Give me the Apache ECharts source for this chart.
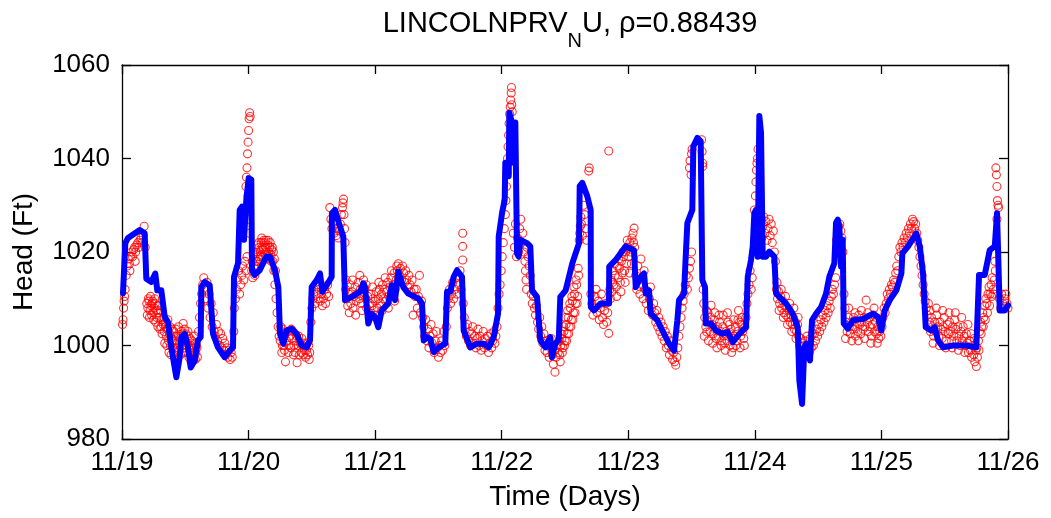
<!DOCTYPE html>
<html>
<head>
<meta charset="utf-8">
<script src="https://cdn.jsdelivr.net/npm/echarts@6/dist/echarts.min.js"></script>
<style>
html,body{margin:0;padding:0;background:#fff;}
#chart{width:1051px;height:518px;}
</style>
</head>
<body>
<div id="chart"></div>
<script>
// x values are hours since 11/19 00:00
const dayLabels = ['11/19','11/20','11/21','11/22','11/23','11/24','11/25','11/26'];
const yTicks = [980, 1000, 1020, 1040, 1060];
const titleMain = 'LINCOLNPRV';
const titleSub = 'N';
const titleRest = 'U, ρ=0.88439';
const xName = 'Time (Days)';
const yName = 'Head (Ft)';

// simulated head (blue line)
const simulated = [
[0.19,1011.2],[0.63,1021.9],[1.14,1023],[3.36,1024.7],[4.30,1024],[4.61,1014.3],[5.56,1013.6],[6.31,1015.4],[6.69,1011.8],[7.45,1011.8],
[8.10,1006.1],[8.72,1005],[9.35,999.6],[10.30,993.2],[10.94,997.5],[11.24,1001.8],[11.89,1002.5],[12.51,999.6],[13.03,995.3],[13.79,996.8],
[14.41,1001.1],[14.92,1001.8],[15.04,1012.5],[15.68,1013.6],[16.63,1012.9],[17.26,1002.5],[18.20,999.6],[19.47,997.5],[20.42,998.9],[21.05,999.6],
[21.24,1014.7],[22.00,1017.6],[22.32,1029.0],[22.75,1029.7],[23.13,1022.6],[23.57,1031.2],[24.02,1035.8],[24.52,1035.5],[24.65,1016.1],[25.16,1015.1],
[26.11,1016.1],[27.36,1019.0],[28.06,1019.0],[29.01,1016.1],[29.64,1012.5],[29.96,1002.5],[30.59,1000.4],[31.23,1003.2],[32.18,1003.6],[33.13,1002.5],
[34.08,1000],[35.02,999.6],[35.65,1001.1],[35.97,1012.5],[36.92,1014],[37.55,1015.4],[37.98,1011.5],[38.82,1012.9],[39.76,1014.7],[39.80,1028.3],
[40.39,1029.0],[41.34,1025.4],[41.96,1023.3],[42.29,1009.7],[43.56,1010.4],[45.13,1011.5],[45.76,1013.3],[46.08,1012.5],[46.70,1004.7],[47.35,1006.8],
[47.97,1006.1],[48.60,1003.9],[49.24,1007.5],[50.50,1009],[51.14,1012.9],[51.77,1009.7],[52.39,1015.8],[53.34,1012.5],[54.29,1011.1],[55.56,1010.4],
[56.26,1010.0],[56.89,1009],[57.21,1001.1],[57.83,1001.8],[58.46,1001.4],[59.10,998.6],[60.05,999.6],[61.30,1000.4],[61.63,1011.5],[62.25,1011.5],
[62.90,1014.7],[63.52,1016.1],[64.47,1014.7],[64.79,1003.2],[66.05,999.6],[67.32,1000.4],[68.59,1000.4],[69.53,999.6],[70.48,1001.8],[71.30,1006.8],
[71.43,1023.3],[72.06,1028.3],[72.57,1031.2],[72.68,1039.1],[73.33,1036.2],[73.44,1049.8],[73.95,1047.7],[74.27,1039.1],[74.58,1047.7],[74.90,1019.7],
[75.22,1019.0],[75.53,1022.6],[76.80,1021.9],[77.42,1021.2],[77.75,1011.8],[78.69,1010.4],[79.32,1001.1],[80.27,999.6],[81.21,1001.8],[81.54,997.5],
[82.16,1000.4],[82.81,1001.1],[83.11,1010.4],[84.13,1011.8],[85.39,1017.6],[86.66,1021.9],[86.79,1034.1],[87.28,1034.8],[88.23,1031.9],[88.87,1029.0],
[88.91,1008.2],[89.50,1007.5],[90.77,1009.0],[92.35,1009],[92.39,1016.9],[93.62,1018.3],[95.51,1021.2],[97.09,1020.4],[97.41,1012.5],[98.36,1014.7],
[98.99,1015.4],[99.31,1011.1],[99.93,1011.8],[100.25,1006.8],[101.51,1005.4],[102.46,1003.2],[103.73,1000.4],[104.68,998.9],[105.30,1005.4],[105.62,1009.7],
[106.57,1011.1],[106.89,1019.0],[107.20,1026.2],[108.14,1029.0],[108.33,1042.6],[109.09,1044.4],[109.73,1043.7],[110.04,1014],[110.55,1012.5],[110.68,1004.7],
[111.69,1004.7],[112.64,1003.2],[113.91,1002.5],[114.86,1002.9],[115.80,1000.7],[117.06,1002.5],[118.33,1003.9],[118.65,1014.7],[119.27,1018.3],[119.60,1021.2],
[119.90,1028.3],[120.22,1029.0],[120.54,1019.0],[120.85,1049.1],[121.17,1045.5],[121.49,1019.0],[122.12,1019.0],[122.74,1020.1],[123.69,1019.0],[124.02,1011.1],
[125.91,1009],[127.18,1006.8],[128.13,1003.9],[128.44,992.5],[128.95,987.5],[129.38,999.6],[129.70,1000.4],[130.46,996.8],[130.84,1005.4],[131.60,1006.8],
[132.55,1008.2],[133.50,1011.1],[134.12,1014.7],[135.07,1017.6],[135.39,1026.2],[135.72,1026.9],[136.02,1025.4],[136.34,1016.9],[136.66,1022.6],[136.85,1004.7],
[137.61,1003.6],[138.61,1005.4],[140.51,1005.7],[142.40,1006.8],[143.35,1006.1],[143.98,1003.2],[144.63,1007.5],[145.57,1009.7],[146.83,1011.8],[147.78,1015.4],
[147.97,1019.7],[149.05,1021.2],[150.62,1024.0],[151.27,1021.2],[151.89,1015.4],[152.40,1003.9],[153.46,1003.2],[154.11,1003.9],[154.73,1001.1],[155.68,999.6],
[157.58,1000],[160.10,1000],[162.00,999.6],[162.51,1015.1],[163.59,1015.1],[164.54,1020.4],[165.49,1021.2],[165.92,1028.3],[166.25,1028.3],[166.43,1007.5],
[167.38,1007.5],[168.00,1008.6]
];

// measured head (red circles)
const measured = [
[0.1,1004.5],[0.2,1005.5],[0.3,1008],[0.4,1009.5],[0.5,1010.5],[0.6,1012],[0.8,1015],[1.0,1017],[1.2,1018.5],[1.4,1017.5],[1.6,1019],[1.8,1020],[2.0,1019],[2.2,1020.5],[2.4,1021],[2.6,1020],[2.8,1021.5],[3.0,1022],[3.2,1021],[3.4,1022.5],[3.6,1023],[3.8,1022],[4.0,1023.5],[4.2,1025.5],[4.4,1021],[1.5,1016],[2.5,1018],
[4.7,1009],[4.9,1008],[5.1,1009.5],[5.3,1007.5],[5.5,1008.5],[5.7,1009],[5.9,1007],[6.1,1008],[6.3,1009],[6.5,1007.5],[6.7,1008.5],[6.9,1007],[7.1,1006],[7.3,1007.5],[7.5,1005.5],
[7.8,1004.5],[8.0,1003],[8.2,1005],[8.4,1002],[8.6,1003.5],[8.8,1001],[9.0,1002.5],[9.2,1000],[9.4,1001.5],[9.6,999.5],[9.8,1003],[10.0,1001],[10.2,1003.5],[10.4,1000.5],[10.6,1002],[10.8,999],[11.0,1001.5],[11.2,1003],[11.4,1000],[11.6,1004.7],[11.8,999.5],[12.0,1001],[12.2,998.5],[12.4,1000.5],[12.6,1002],[12.8,999],[13.0,1000],[13.2,998],[13.4,999.5],[13.6,997],[13.8,1000.5],[14.0,998.5],[14.2,999.5],
[14.5,1003],[14.7,1006],[14.9,1009],[15.1,1011],[15.3,1013],[15.5,1014.5],[15.7,1012],[15.9,1010],[16.1,1013.5],[16.3,1008],[16.5,1011],[16.7,1006],[16.9,1009],[17.1,1004],[17.3,1007],[17.5,1003],
[17.7,1002],[17.9,1004.5],[18.1,1001],[18.3,1003],[18.5,1000],[18.7,1002.5],[18.9,999.5],[19.1,1001.5],[19.3,999],[19.5,1000.5],[19.7,998],[19.9,999.5],[20.1,997.5],[20.3,999],[20.5,997],[20.7,998.5],[20.9,997.5],
[21.2,1003],[21.3,1008],[21.5,1010],[21.7,1012],[21.9,1014],[22.1,1016],[22.3,1011],[22.5,1013],[22.7,1015],[22.9,1017],[23.1,1014],[23.3,1018],[23.5,1016],[23.7,1019],
[23.5,1034],[23.6,1036],[23.7,1038],[23.8,1041],[23.9,1043.5],[24.0,1046],[24.1,1048.5],[24.2,1049.8],[24.3,1049],[23.9,1032],[24.1,1030],[24.0,1027],[24.2,1024],
[24.6,1016],[24.8,1014.5],[25.0,1017],[25.2,1015],[25.4,1018],[25.6,1020],[25.8,1019],[26.0,1021],[26.2,1020],[26.4,1022],[26.6,1021],[26.8,1020.5],[27.0,1022],[27.2,1021],[27.4,1020],[27.6,1021.5],[27.8,1020],[28.0,1021],[28.2,1019.5],[28.4,1020.5],[28.6,1018],[28.8,1016],[29.0,1013],
[29.2,1010],[29.4,1007],[29.6,1004],[29.8,1002],
[30.0,1001],[30.2,1003],[30.4,1000],[30.6,1002],[30.8,999],[31.0,996.5],[31.2,1001],[31.4,1003],[31.6,1000],[31.8,1002],[32.0,999.5],[32.2,1001.5],[32.4,1003],[32.6,1000],[32.8,998.5],[33.0,1001],[33.2,996.3],[33.4,1000],[33.6,998],[33.8,1000.5],[34.0,998.5],[34.2,1000],[34.4,998],[34.6,999],[34.8,997.5],[35.0,999],[35.2,998],[35.4,1000],[35.6,998.5],
[35.8,1005],[36.0,1008],[36.2,1010],[36.4,1012],[36.6,1009],[36.8,1011],[37.0,1013],[37.2,1010],[37.4,1012],[37.6,1009.5],[37.8,1011],[38.0,1008.5],[38.2,1010],[38.4,1012],[38.6,1009],[38.8,1011],[39.0,1013],[39.2,1010.5],
[39.4,1029.5],[39.6,1027],[39.8,1025],[40.0,1026.5],[40.2,1024],[40.4,1026],[40.6,1023.5],[40.8,1025],[41.0,1023],[41.2,1024.5],[41.4,1026],[41.6,1028],[41.8,1029.5],[41.9,1030.5],[42.0,1031.3],[42.1,1028],[42.2,1025],[42.3,1022],
[42.4,1012],[42.6,1010],[42.8,1008.5],[43.0,1011],[43.2,1013],[43.4,1009],[43.6,1011.5],[43.8,1008],[44.0,1010.5],[44.2,1012.5],[44.4,1009.5],[44.6,1011],[44.8,1013.5],[45.0,1010],[45.2,1012],[45.4,1009],[45.6,1011],[45.8,1014],[46.0,1012],[46.2,1010],[46.4,1008],[46.6,1010.5],[46.8,1007],[47.0,1009],[47.2,1011],[47.4,1008.5],[47.6,1010],[47.8,1007.5],[48.0,1009.5],[48.2,1011.5],[48.4,1008],[48.6,1010],[48.8,1012],[49.0,1009],[49.2,1011],[49.4,1013],[49.6,1010],[49.8,1012],[50.0,1009.5],[50.2,1011.5],[50.4,1013.5],[50.6,1010.5],[50.8,1012.5],[51.0,1014.5],[51.2,1011.5],[51.4,1013],[51.6,1015.5],[51.8,1012],[52.0,1014],
[52.2,1016],[52.4,1017.5],[52.6,1015],[52.8,1016.5],[53.0,1014],[53.2,1017],[53.4,1015.5],[53.6,1013.5],[53.8,1016],[54.0,1014],[54.2,1012.5],[54.4,1015],[54.6,1013],[54.8,1011.5],[55.0,1014],[55.2,1006.5],[55.4,1012],[55.6,1010.5],
[55.8,1012],[56.0,1008],[56.2,1010.5],[56.4,1015],[56.6,1007],[56.8,1009.5],[57.0,1006],
[57.2,1004],[57.4,1002],[57.6,1005.5],[57.8,1001],[58.0,1003.5],[58.2,999.5],[58.4,1002],[58.6,1004.5],[58.8,1000.5],[59.0,1002.5],[59.2,998.5],[59.4,1001],[59.6,1003],[59.8,999.5],[60.0,997.5],[60.2,1000],[60.4,998.5],[60.6,1001],[60.8,999],[61.0,1003],[61.2,1000],
[61.5,1004],[61.7,1008],[61.9,1010],[62.1,1012],[62.3,1009],[62.5,1011],[62.7,1013.5],[62.9,1010],[63.1,1012],[63.3,1014.5],[63.5,1011],[63.7,1015],[63.9,1013],[64.1,1016],[64.3,1012],[64.6,1018.3],[64.6,1021.2],[64.6,1024],[64.7,1009],
[64.9,1006],[65.1,1004],[65.3,1002],[65.5,1004.5],[65.7,1001],[65.9,1003],[66.1,1000],[66.3,1002.5],[66.5,1004],[66.7,1000.5],[66.9,1002],[67.1,999.5],[67.3,1001.5],[67.5,1003.5],[67.7,1000],[67.9,1002],[68.1,999],[68.3,1001],[68.5,1003],[68.7,999.5],[68.9,1001.5],[69.1,1000],[69.3,1002],[69.5,998.5],[69.7,1000.5],[69.9,1002.5],[70.1,999.5],[70.3,1001],[70.5,1003],[70.7,1000.5],[70.9,1002],[71.1,1004],
[71.3,1008],[71.5,1011],[71.7,1013],[71.9,1016],[72.1,1019],[72.3,1022],[72.5,1025],[72.7,1028],[72.8,1031],[72.9,1034],[73.0,1037],[73.1,1040],[73.2,1042.5],[73.3,1045],[73.4,1047.5],[73.5,1049.5],[73.6,1051],[73.7,1052.5],[73.8,1054],[73.85,1055.2],[73.9,1051.5],[74.0,1050],
[74.2,1024],[74.4,1021],[74.6,1026],[74.8,1019],[75.0,1023],[75.2,1020],[75.4,1025],[75.6,1027],[75.8,1022],[76.0,1024],[76.2,1020],[76.4,1018],[76.5,1016],[76.6,1014],[76.7,1012],[76.8,1021],[77.0,1019],[77.2,1017],[77.4,1015],
[77.6,1011],[77.8,1009],[78.0,1010.5],[78.2,1008],[78.4,1006.5],[78.6,1008.5],[78.8,1005],[79.0,1003.5],[79.2,1006],[79.4,1002],[79.6,1004],[79.8,1000.5],[80.0,1002.5],[80.2,999],[80.4,1001],[80.6,998.5],[80.8,1000],[81.0,997.5],[81.2,999.5],[81.4,1001.5],[81.6,998],[81.8,996],[82.0,999],[82.1,994.3],[82.3,997.5],[82.5,1000],[82.7,998.5],[82.9,1001],
[83.0,998],[83.2,1000],[83.4,1001.5],[83.6,999.5],[83.8,1003],[84.0,1001],[84.2,1004.5],[84.4,1002.5],[84.6,1006],[84.8,1004],[85.0,1008],[85.2,1005.5],[85.4,1009.5],[85.6,1007],[85.8,1011],[86.0,1009],[86.2,1013],[86.4,1010.5],[86.6,1015],
[86.7,1022.5],[86.8,1024],[86.9,1025.5],[87.0,1027.5],[87.1,1026],[87.3,1023.5],[87.5,1030],[87.7,1028],[87.9,1025],[88.1,1022.5],[88.5,1037.3],[88.6,1038],[92.3,1041.6],
[88.9,1011],[89.1,1009],[89.3,1006.5],[89.5,1008],[89.7,1010.5],[89.9,1012],[90.1,1007],[90.3,1009.5],[90.5,1005.5],[90.7,1008],[90.9,1011],[91.1,1006],[91.3,1004.5],[91.5,1007.5],[91.7,1009],[91.9,1005],[92.1,1007],[92.3,1002.6],
[92.5,1012],[92.7,1014],[92.9,1011.5],[93.1,1016],[93.3,1013],[93.5,1015],[93.7,1012.5],[93.9,1017],[94.1,1014.5],[94.3,1016.5],[94.5,1013.5],[94.7,1018],[94.9,1015.5],[95.1,1019],[95.3,1016],[95.5,1020],[95.7,1017.5],[95.9,1021],[96.1,1019],[96.3,1022],[96.5,1020],[96.7,1023],[96.9,1024],[97.1,1025.1],[97.2,1021],
[97.4,1015],[97.6,1012],[97.8,1017],[98.0,1014],[98.2,1011],[98.4,1018.5],[98.6,1013],[98.8,1010],[99.0,1016],[99.2,1012],[99.4,1009],[99.6,1011.5],[99.8,1007.5],[100.0,1010],[100.2,1012.5],[100.4,1008],[100.6,1006.5],[100.8,1009],[101.0,1007],[101.2,1005],[101.4,1007.5],
[101.6,1004],[101.8,1006],[102.0,1003],[102.2,1005],[102.4,1002],[102.6,1004],[102.8,1001],[103.0,1003],[103.2,999.5],[103.4,1002],[103.6,1000],[103.8,998],[104.0,1001],[104.2,999],[104.4,997],[104.6,998.5],[104.8,996.5],[105.0,995.8],[105.2,997.5],[105.4,999.5],
[105.6,1002],[105.8,1004],[106.0,1006],[106.2,1008],[106.4,1009.5],[106.6,1011],[106.8,1013],[107.0,1015],[107.2,1012],[107.4,1014.5],[107.6,1016.5],[107.8,1018],[108.0,1020],
[107.6,1038],[107.7,1039.5],[107.9,1036.5],[108.0,1041],[108.1,1042],[109.9,1044],[110.0,1041.5],[110.1,1039],[110.1,1038.3],
[110.2,1012],[110.3,1009],[110.5,1006],[110.7,1004],[110.9,1002.9],[111.1,1007],[111.3,1005],[111.5,1003],[111.7,1008.6],[111.9,1004.5],[112.1,1002.5],[112.3,1005.5],[112.5,1003.5],[112.7,1001.5],[112.9,1004],[113.1,1002],[113.3,1005],[113.5,1003],[113.7,1001],[113.9,1004],[114.1,1002],[114.3,1000.5],[114.5,1003],[114.7,1001],[114.9,1005],[115.1,1002.5],[115.3,1000],[115.5,1003.5],[115.7,1001.5],[115.9,999.5],[116.1,1002],[116.3,1004],[116.5,1001],[116.7,1003],[116.9,1007.5],[117.1,1005],[117.3,1002],[117.5,1004.5],[117.7,1003],[117.9,1001.5],[118.1,1004],
[118.3,1006],[118.5,1009],[118.7,1011],[118.9,1013],[119.1,1016],[119.3,1012],[119.5,1014.5],
[119.9,1029],[120.1,1032],[120.3,1037.5],[120.5,1040],[120.6,1042],[120.4,1039],[120.2,1035],
[121.3,1023],[121.5,1025.5],[121.7,1027.5],[121.9,1024],[122.1,1026.5],[122.3,1022.5],[122.5,1025],[122.7,1027],[122.9,1023.5],[123.1,1026],[123.3,1022],[123.5,1024.5],[123.7,1020],[123.9,1018],
[124.1,1012],[124.3,1010],[124.5,1011.5],[124.7,1009],[124.9,1010.5],[125.1,1008],[125.3,1009.5],[125.5,1007],[125.7,1008.5],[125.9,1006.5],[126.1,1008],[126.3,1006],[126.5,1007.5],[126.7,1005],[126.9,1006.5],[127.1,1004.5],[127.3,1006],[127.5,1003.5],[127.7,1005],[127.9,1003],[128.1,1004.5],
[128.3,1002],[128.5,1000],[128.7,1001.5],[128.9,999],[129.1,1000.5],[129.3,998.5],[129.5,1001],[129.7,999.5],[129.9,1002],[130.1,1000],[130.3,998.5],[130.5,1001.5],[130.7,999.5],[130.9,1002.5],
[131.1,1000],[131.3,1002.5],[131.5,1001],[131.7,1003.5],[131.9,1002],[132.1,1004.5],[132.3,1003],[132.5,1005.5],[132.7,1004],[132.9,1006.5],[133.1,1005],[133.3,1007.5],[133.5,1006],[133.7,1008.5],[133.9,1007],[134.1,1009.5],[134.3,1008],[134.5,1010.5],[134.7,1012],[134.9,1011],[135.1,1013],[135.3,1014.5],
[135.5,1022.6],[135.7,1024],[135.9,1025.5],[136.1,1026],[136.3,1024.5],[136.5,1023],[136.7,1020],
[136.9,1011],[137.1,1008],[137.3,1005],[137.5,1003],[137.7,1006],[137.9,1004],[138.1,1002.5],[138.3,1005],[138.5,1003.5],[138.7,1006],[138.9,1004],[139.1,1002],[139.3,1005],[139.5,1003],[139.7,1006.5],[139.9,1004.5],[140.1,1002.5],[140.3,1005],[140.5,1003.5],[140.7,1006],[140.9,1004],[141.1,1009.7],[141.3,1005],[141.5,1003],[141.7,1006],[141.9,1004],[142.1,1002],[142.3,1004.5],[142.5,1006.5],[142.7,1003],[142.9,1005],[143.1,1002.5],[143.3,1004],[143.5,1001.5],[143.7,1003],[143.9,1002],
[144.1,1004],[144.3,1006],[144.5,1008],[144.7,1007],[144.9,1009],[145.1,1011],[145.3,1010],[145.5,1012],[145.7,1011],[145.9,1013],[146.1,1012.5],[146.3,1014],[146.5,1013.5],[146.7,1015.5],[146.9,1017],[147.1,1016],
[147.3,1019],[147.5,1021],[147.7,1020],[147.9,1022],[148.1,1021],[148.3,1023],[148.5,1022],[148.7,1024],[148.9,1023],[149.1,1025],[149.3,1024],[149.5,1026],[149.7,1025],[149.9,1027],[150.1,1026.5],[150.3,1025],[150.5,1026],[150.7,1024],[150.9,1022.5],[151.1,1021],
[151.3,1019],[151.5,1017],[151.7,1015],[151.9,1013],[152.1,1011],[152.3,1009.5],[152.5,1008],[152.7,1006.5],[152.9,1009],
[153.1,1005],[153.3,1003],[153.5,1006],[153.7,1004],[153.9,1002],[154.1,1005],[154.3,1003],[154.5,1006.5],[154.7,1004],[154.9,1002],[155.1,1005],[155.3,1003.5],[155.5,1001.5],[155.7,1004],[155.9,1006],[156.1,1003],[156.3,1001],[156.5,1004.5],[156.7,1002.5],[156.9,1005],[157.1,1003],[157.3,1001],[157.5,1004],[157.7,1002],[157.9,1005.5],[158.1,1003.5],[158.3,1001],[158.5,1004],[158.7,1002],[158.9,1000],[159.1,1003],[159.3,1001],[159.5,1004],[159.7,1002],[159.9,1000],[160.1,1002.5],[160.3,1000.5],[160.5,998.5],[160.7,1001],[160.9,999],[161.1,997.5],[161.3,1000],[161.5,998],[161.7,996.5],[161.9,999],[162.0,995.5],[162.2,997.5],
[162.4,1001],[162.6,1003],[162.8,1005],[163.0,1004],[163.2,1007],[163.4,1006],[163.6,1008.5],[163.8,1010],[164.0,1009],[164.2,1011],[164.4,1012.5],[164.6,1011],[164.8,1013],[165.0,1014.5],[165.2,1012],[165.4,1014],[165.6,1016],
[165.7,1038],[165.8,1036.5],[165.9,1034],[166.0,1031],[166.1,1030],[166.2,1029.5],[165.9,1027],
[166.4,1010],[166.6,1008],[166.8,1011],[167.0,1009],[167.2,1008],[167.4,1010],[167.6,1011],[167.8,1009],[168.0,1008]
];

// additional measured readings in the densest clusters
const measuredDense = [
[4.8,1006.5],[5.0,1010],[5.2,1006],[5.4,1010.5],[5.6,1006.5],[5.8,1009.5],[6.0,1005.5],[6.2,1010],[6.4,1005],[6.6,1006],[6.8,1004],[7.0,1008.5],[7.2,1003.5],[7.4,1004],[7.6,1002.5],[7.9,1006],[8.1,1000.5],[8.3,1004],[8.5,1000],[8.7,1005.5],[8.9,998.5],[9.1,1004],[9.3,998],[9.5,1003.5],[9.7,1001],[9.9,998],[10.1,999.5],[10.3,1002],[10.5,998.5],[10.7,1004],[10.9,1000.5],[11.1,998],[11.3,1002],[11.5,998.5],[11.7,1002.5],[11.9,1003.5],[12.1,1002.5],[12.3,1000],[12.5,1003],[12.7,997.5],[12.9,1001.5],[13.1,996.5],[13.3,1001],[13.5,998.5],[13.7,1002],[13.9,997],[14.1,1000],[14.3,997.5],
[24.7,1018],[24.9,1019.5],[25.1,1020],[25.3,1017],[25.5,1021.5],[25.7,1018],[25.9,1022],[26.1,1018.5],[26.3,1019],[26.5,1023],[26.7,1019],[26.9,1022.5],[27.1,1019.5],[27.3,1022.5],[27.5,1018.5],[27.7,1022.5],[27.9,1019],[28.1,1022],[28.3,1018],[28.5,1021],[28.7,1020],[28.9,1018.5],[29.1,1016],
[30.1,1004],[30.3,998.5],[30.5,1003.5],[30.7,1000],[30.9,1002.5],[31.5,998.5],[32.1,1003.5],[32.5,998],[33.1,1002],[33.5,1002],[34.1,1001.5],[34.5,1000.5],[35.1,1000.5],[35.5,997],
[42.5,1014],[43.1,1007],[43.7,1014],[44.3,1006.5],[45.1,1015],[45.5,1007.5],[46.3,1013],[46.9,1006],[47.5,1012.5],[48.1,1006.5],[48.7,1013.5],[49.3,1007.5],[49.9,1014.5],[50.5,1008],[51.1,1016],[51.7,1009.5],[52.1,1017],
[83.1,996.5],[83.3,1002.5],[83.5,998.5],[83.7,1004],[83.9,1000],[84.1,1006],[84.3,1001],[84.5,1007.5],[84.7,1002.5],[84.9,1009],[85.1,1004],[85.3,1010.5],[85.5,1005.5],[85.7,1012.5],[85.9,1007],[86.1,1014],[86.3,1009],[86.5,1016.5],
[92.6,1010],[93.0,1013.5],[93.4,1017.5],[93.8,1010.5],[94.2,1018.5],[94.6,1011.5],[95.0,1020],[95.4,1013.5],[95.8,1022.5],[96.2,1015.5],[96.6,1017.5],[97.0,1022],
[110.4,1002],[110.8,1007.5],[111.2,1001],[111.6,1006],[112.0,1000.5],[112.4,1007],[112.8,999.5],[113.2,1006.5],[113.6,1000],[114.0,1006.5],[114.4,999],[114.8,1007],[115.2,1004.5],[115.6,998.5],[116.0,1005.5],[116.4,1000],[116.8,1005.5],[117.2,999.5],[117.6,1006],[118.0,1000],
[124.2,1013.5],[124.6,1007.5],[125.0,1012],[125.4,1006],[125.8,1010.5],[126.2,1004.5],[126.6,1009],[127.0,1003],[127.4,1008],[127.8,1001.5],[128.2,1006],
[137.2,1001.5],[137.8,1008],[138.4,1001],[139.0,1007],[139.6,1001],[140.2,1007.5],[140.8,1001.5],[141.4,1007],[142.0,1000.5],[142.6,1008],[143.2,1000.5],[143.8,1005.5],
[153.2,1007.5],[153.8,1000.5],[154.4,1008],[155.0,1000],[155.6,1007.5],[156.2,999.5],[156.8,1007],[157.4,999.5],[158.0,1007],[158.6,999],[159.2,1006],[159.8,998.5],[160.4,1004.5],[161.0,1002.5],[161.6,1001.5],[162.1,999.5],
[162.5,999],[162.9,1002.5],[163.3,1004],[163.7,1005.5],[164.1,1007],[164.5,1008.5],[164.9,1010.5],[165.3,1011],[165.5,1018]
];

const FONT = '"Liberation Sans", Arial, Helvetica, sans-serif';
const chart = echarts.init(document.getElementById('chart'), null, {renderer: 'canvas'});
const yMin = yTicks[0], yMax = yTicks[yTicks.length - 1], yStep = yTicks[1] - yTicks[0];
const xMax = (dayLabels.length - 1) * 24;
const axisLine = {show: true, onZero: false, lineStyle: {color: '#000', width: 1.3}};
const tick = {show: true, inside: true, length: 9, lineStyle: {color: '#000', width: 1.3}};

chart.setOption({
  animation: false,
  backgroundColor: '#fff',
  title: {
    text: '{a|' + titleMain + '}{s|' + titleSub + '}{a|' + titleRest + '}',
    left: 565, top: 4, textAlign: 'center',
    textStyle: {
      fontWeight: 'normal',
      rich: {
        a: {fontFamily: FONT, fontSize: 29, fontWeight: 'normal', color: '#000', lineHeight: 30, verticalAlign: 'top'},
        s: {fontFamily: FONT, fontSize: 20, fontWeight: 'normal', color: '#000', lineHeight: 20, verticalAlign: 'top', padding: [22, 0, 0, 0]}
      }
    }
  },
  grid: {left: 122, right: 43, top: 65, bottom: 79, containLabel: false},
  xAxis: [{
    type: 'value', min: 0, max: xMax, interval: 24, position: 'bottom',
    axisLine: axisLine, axisTick: tick, splitLine: {show: false},
    axisLabel: {fontFamily: FONT, fontSize: 26, color: '#000', margin: 11,
      formatter: v => dayLabels[Math.round(v / 24)] || ''},
    name: xName, nameLocation: 'middle', nameGap: 44,
    nameTextStyle: {fontFamily: FONT, fontSize: 28, color: '#000'}
  }, {
    type: 'value', min: 0, max: xMax, interval: 24, position: 'top',
    axisLine: axisLine, axisTick: tick, splitLine: {show: false}, axisLabel: {show: false}
  }],
  yAxis: [{
    type: 'value', min: yMin, max: yMax, interval: yStep, position: 'left',
    axisLine: axisLine, axisTick: tick, splitLine: {show: false},
    axisLabel: {fontFamily: FONT, fontSize: 26, color: '#000', margin: 12, formatter: v => String(v)},
    name: yName, nameLocation: 'middle', nameGap: 84, nameRotate: 90,
    nameTextStyle: {fontFamily: FONT, fontSize: 28, color: '#000'}
  }, {
    type: 'value', min: yMin, max: yMax, interval: yStep, position: 'right',
    axisLine: axisLine, axisTick: tick, splitLine: {show: false}, axisLabel: {show: false}
  }],
  series: [{
    type: 'scatter', name: 'measured', data: measured.concat(measuredDense), xAxisIndex: 1, yAxisIndex: 1,
    symbol: 'circle', symbolSize: 8, z: 2, large: false,
    itemStyle: {color: 'rgba(0,0,0,0)', borderColor: '#ff0000', borderWidth: 1.1},
    emphasis: {disabled: true}
  }, {
    type: 'line', name: 'simulated', data: simulated, xAxisIndex: 0, yAxisIndex: 0,
    showSymbol: false, symbol: 'none', z: 3,
    lineStyle: {color: '#0000ff', width: 6, join: 'round', cap: 'round'},
    emphasis: {disabled: true}
  }]
});
</script>
</body>
</html>
